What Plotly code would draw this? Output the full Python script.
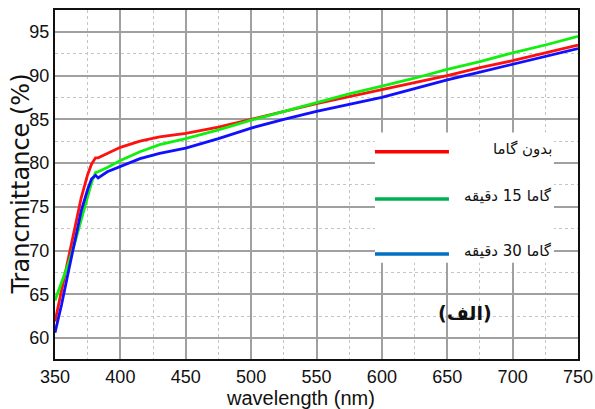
import plotly.graph_objects as go

wavelength = [350, 355, 360, 365, 370, 375, 378, 381, 383, 390, 400, 415, 430, 450,
              475, 500, 525, 550, 575, 600, 625, 650, 675, 700, 725, 750]
t_no_gamma = [61.9, 65.5, 69.2, 72.8, 76.0, 78.7, 79.9, 80.6, 80.6, 81.1, 81.8, 82.5, 83.0, 83.4,
              84.1, 85.0, 85.9, 86.8, 87.6, 88.4, 89.2, 90.0, 90.9, 91.7, 92.6, 93.5]
t_gamma15 = [64.3, 66.3, 68.4, 70.8, 73.6, 76.3, 77.8, 78.9, 79.0, 79.5, 80.3, 81.3, 82.1, 82.8,
             83.8, 84.9, 85.9, 86.9, 87.9, 88.8, 89.7, 90.7, 91.6, 92.6, 93.5, 94.5]
t_gamma30 = [60.6, 63.8, 67.4, 71.0, 74.5, 77.0, 78.2, 78.6, 78.3, 79.0, 79.6, 80.5, 81.1, 81.7,
             82.8, 84.0, 85.0, 85.9, 86.7, 87.5, 88.5, 89.5, 90.4, 91.3, 92.2, 93.1]

series_names = ["بدون گاما", "گاما 15 دقیقه", "گاما 30 دقیقه"]
curve_colors = ["#ff1010", "#10f010", "#1010ff"]
legend_colors = ["#ff0000", "#00b050", "#0070c0"]
x_ticks = [350, 400, 450, 500, 550, 600, 650, 700, 750]
y_ticks = [60, 65, 70, 75, 80, 85, 90, 95]
x_title = "wavelength (nm)"
y_title = "Trancmittance (%)"

fig = go.Figure()
for vals, name, col in zip([t_no_gamma, t_gamma15, t_gamma30], series_names, curve_colors):
    fig.add_trace(go.Scatter(x=wavelength, y=vals, mode="lines", name=name,
                             line=dict(color=col, width=2.8), showlegend=False))

tick_font = dict(family="Liberation Sans, Arial", size=18, color="#111")

fig.update_xaxes(range=[350, 750], tickvals=x_ticks, tickfont=tick_font, automargin=False,
                 showgrid=True, gridcolor="#a0a0a0", gridwidth=1.5, ticklen=0,
                 minor=dict(dtick=25, tick0=350, showgrid=True, griddash="dot", gridcolor="#c4c4c4", gridwidth=1),
                 showline=True, linecolor="#111", linewidth=2, mirror=True, ticks="", zeroline=False)
fig.update_yaxes(range=[57.6, 97.5], tickvals=y_ticks, tickfont=tick_font, automargin=False,
                 showgrid=True, gridcolor="#a0a0a0", gridwidth=1.5, ticklen=0,
                 minor=dict(dtick=2.5, tick0=60, showgrid=True, griddash="dot", gridcolor="#c4c4c4", gridwidth=1),
                 showline=True, linecolor="#111", linewidth=2, mirror=True, ticks="", zeroline=False)

# axis titles
fig.add_annotation(x=0.4685, y=-0.112, xref="paper", yref="paper", text=x_title, showarrow=False,
                   xanchor="center", yanchor="middle",
                   font=dict(family="Liberation Sans, Arial", size=20, color="#111"))
fig.add_annotation(x=-0.0669, y=0.5, xref="paper", yref="paper", text=y_title, showarrow=False,
                   textangle=-90, xanchor="center", yanchor="middle",
                   font=dict(family="DejaVu Sans, Liberation Sans", size=24, color="#111"))

# legend box
fig.add_shape(type="rect", xref="x", yref="y", x0=594.7, x1=731.6, y0=68.6, y1=83.5,
              fillcolor="white", line=dict(width=0), layer="above")
legend_y = [81.3, 75.9, 69.6]
for ly, name, col in zip(legend_y, series_names, legend_colors):
    fig.add_shape(type="line", xref="x", yref="y", x0=594.7, x1=651.3, y0=ly, y1=ly,
                  line=dict(color=col, width=3.5), layer="above")
    fig.add_annotation(x=731.6, y=ly + 0.3, xref="x", yref="y", text=name, showarrow=False,
                       xanchor="right", yanchor="middle",
                       font=dict(family="DejaVu Sans", size=15, color="#111"))

fig.add_annotation(x=663.6, y=62.9, xref="x", yref="y", text="<b>(الف)</b>", showarrow=False,
                   xanchor="center", yanchor="middle",
                   font=dict(family="DejaVu Sans", size=19, color="#111"))

fig.update_layout(width=595, height=409, margin=dict(l=55, r=17, t=10, b=50),
                  paper_bgcolor="white", plot_bgcolor="white", showlegend=False)

fig.write_html("out.html")
